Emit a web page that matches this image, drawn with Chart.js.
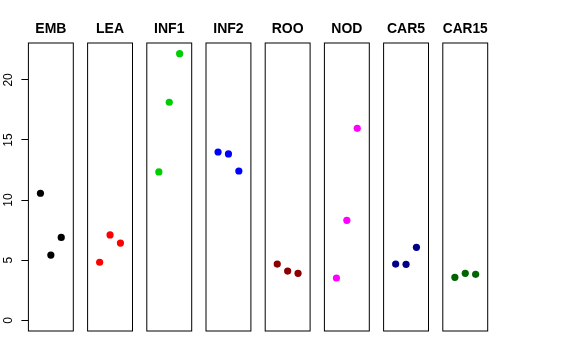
<!DOCTYPE html>
<html><head><meta charset="utf-8">
<script src="https://cdn.jsdelivr.net/npm/chart.js@4/dist/chart.umd.min.js"></script>
<style>
html,body{margin:0;padding:0;background:#fff;}
#wrap{position:relative;width:576px;height:360px;background:#fff;}
#wrap canvas{position:absolute;left:0;top:0;}
</style>
</head><body><div id="wrap"></div>
<script>
// ---- data ----
const panels = ['EMB', 'LEA', 'INF1', 'INF2', 'ROO', 'NOD', 'CAR5', 'CAR15'];
const positions = [1, 2, 3];
const EMB   = [10.57, 5.43, 6.90];
const LEA   = [4.83, 7.10, 6.43];
const INF1  = [12.34, 18.14, 22.18];
const INF2  = [14.00, 13.84, 12.42];
const ROO   = [4.68, 4.10, 3.91];
const NOD   = [3.52, 8.32, 15.97];
const CAR5  = [4.68, 4.66, 6.07];
const CAR15 = [3.58, 3.91, 3.83];
const seriesValues = [EMB, LEA, INF1, INF2, ROO, NOD, CAR5, CAR15];
const colors = ['#000000', '#FF0000', '#00CD00', '#0000FF', '#8B0000', '#FF00FF', '#00008B', '#006400'];
const yTicks = [0, 5, 10, 15, 20];
const yLim = [0, 22.18];
const xLim = [0, 4];

// ---- layout ----
const W = 576, H = 360;
const boxTop = 43, boxBottom = 331;
const firstLeft = 28.4, step = 59.2, boxW = 44.9;
const yPad = 0.04 * (yLim[1] - yLim[0]);
const xPad = 0.04 * (xLim[1] - xLim[0]);

Chart.defaults.font.family = "'Liberation Sans', Arial, Helvetica, sans-serif";
Chart.defaults.color = '#000';

const boxPlugin = {
  id: 'panelBox',
  afterDraw(chart) {
    const a = chart.chartArea, ctx = chart.ctx;
    ctx.save();
    ctx.strokeStyle = '#000';
    ctx.lineWidth = 1;
    ctx.strokeRect(a.left, a.top, a.right - a.left, a.bottom - a.top);
    ctx.restore();
  }
};

const wrap = document.getElementById('wrap');
panels.forEach((name, i) => {
  const cv = document.createElement('canvas');
  cv.width = W; cv.height = H;
  cv.style.width = W + 'px'; cv.style.height = H + 'px';
  wrap.appendChild(cv);
  const left = firstLeft + step * i;
  const showY = i === 0;
  const yScale = {
    type: 'linear',
    display: showY,
    min: yLim[0] - yPad,
    max: yLim[1] + yPad,
    afterBuildTicks: (s) => { s.ticks = yTicks.map(v => ({ value: v })); },
    border: { display: false },
    grid: {
      display: true,
      drawOnChartArea: false,
      drawTicks: true,
      tickLength: 7,
      color: '#000',
      lineWidth: 1
    },
    ticks: {
      minRotation: 90,
      maxRotation: 90,
      crossAlign: 'center',
      padding: 6,
      color: '#000',
      font: { size: 12 },
      callback: (v) => String(v)
    }
  };
  if (showY) yScale.afterFit = (s) => { s.width = firstLeft; };
  new Chart(cv, {
    type: 'scatter',
    data: {
      datasets: [{
        data: positions.map((x, j) => ({ x: x, y: seriesValues[i][j] })),
        backgroundColor: colors[i],
        borderWidth: 0,
        pointRadius: 3.6,
        pointHoverRadius: 3.6
      }]
    },
    options: {
      responsive: false,
      animation: false,
      devicePixelRatio: 1,
      layout: {
        autoPadding: false,
        padding: {
          left: showY ? 0 : left,
          right: W - left - boxW,
          top: 0,
          bottom: H - boxBottom
        }
      },
      plugins: {
        legend: { display: false },
        tooltip: { enabled: false },
        title: {
          display: true,
          text: name,
          fullSize: false,
          color: '#000',
          font: { size: 14, weight: 'bold', lineHeight: 1.2 },
          padding: { top: 21, bottom: boxTop - 21 - 16.8 }
        }
      },
      scales: {
        x: {
          type: 'linear',
          display: false,
          min: xLim[0] - xPad,
          max: xLim[1] + xPad
        },
        y: yScale
      }
    },
    plugins: [boxPlugin]
  });
});
</script>
</body></html>
